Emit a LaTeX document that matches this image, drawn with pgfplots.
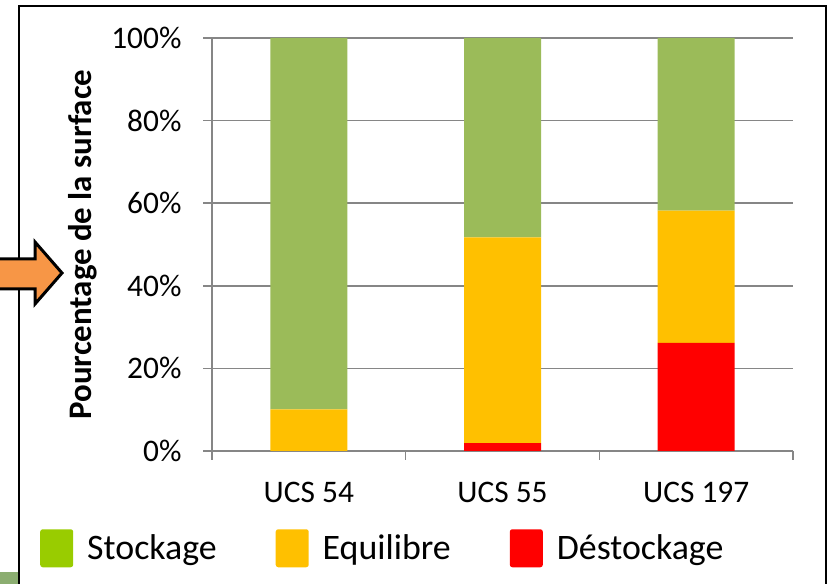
\documentclass[border=0pt]{standalone}
\usepackage{pgfplots}
\pgfplotsset{compat=1.18}
\usepackage{fontspec}
\setmainfont{Carlito}
\definecolor{gstock}{HTML}{9BBB59}
\definecolor{gequi}{HTML}{FFC000}
\definecolor{gdest}{HTML}{FF0000}
\definecolor{lgstock}{HTML}{99CC00}
\definecolor{gridgray}{HTML}{868686}
\definecolor{arroworange}{HTML}{F79646}
\definecolor{deco}{HTML}{8BAD70}
\pgfplotsset{legsq/.style={legend image code/.code={\fill[##1,draw=none,rounded corners=2.5bp] (0bp,-19bp) rectangle (33bp,19bp);}}}
\begin{document}
\begin{tikzpicture}[x=1bp,y=1bp]
\useasboundingbox (0,0) rectangle (830,584);
\fill[deco] (0,-5) rectangle (19,12);
\draw[line width=2.5bp] (19,-20) -- (19,578) -- (826,578) -- (826,-20);
\draw[line width=3bp, fill=arroworange, line join=miter] (-10,325) -- (35,325) -- (35,342) -- (62,311) -- (35,280) -- (35,295) -- (-10,295) -- cycle;
\begin{axis}[
  at={(212bp,133bp)}, anchor=south west, scale only axis,
  width=581bp, height=413bp,
  xmin=-0.5, xmax=2.5, ymin=0, ymax=100,
  ybar stacked, bar width=77bp,
  axis x line*=bottom, axis y line*=left,
  axis line style={gridgray, line width=1.5bp},
  ymajorgrids, grid style={gridgray, line width=1.5bp},
  ytick={0,20,40,60,80,100},
  yticklabels={0\%,20\%,40\%,60\%,80\%,100\%},
  xtick={-0.5,0.5,1.5,2.5}, xticklabels={},
  extra x ticks={0,1,2},
  extra x tick labels={UCS 54,UCS 55,UCS 197},
  extra x tick style={major tick length=0bp, grid=none},
  tick align=outside, major tick length=9bp,
  tick style={gridgray, line width=1.5bp},
  tick label style={font=\fontsize{31.5}{37}\selectfont, text=black},
  yticklabel style={xshift=-18bp},
  xticklabel style={yshift=-28bp},
  ylabel={Pourcentage de la surface},
  ylabel style={font=\bfseries\fontsize{33}{39}\selectfont, at={(axis description cs:-0.222,0.5)}, anchor=center},
  legend columns=3,
  legend entries={Stockage,Equilibre,Déstockage},
  legend style={draw=none, fill=none, inner sep=0pt, at={(axis description cs:-0.296,-0.189)}, anchor=north west,
    font=\fontsize{36}{42}\selectfont, legend cell align=left,
    /tikz/every odd column/.append style={column sep=8bp},
    /tikz/every even column/.append style={column sep=53bp},
    nodes={inner xsep=6bp}},
]
\addlegendimage{legsq, fill=lgstock}
\addlegendimage{legsq, fill=gequi}
\addlegendimage{legsq, fill=gdest}
\addplot[fill=gdest, draw=none] coordinates {(0,0) (1,1.9) (2,26.2)};
\addplot[fill=gequi, draw=none] coordinates {(0,10.1) (1,49.8) (2,32.0)};
\addplot[fill=gstock, draw=none] coordinates {(0,89.9) (1,48.3) (2,41.8)};
\end{axis}
\end{tikzpicture}
\end{document}
